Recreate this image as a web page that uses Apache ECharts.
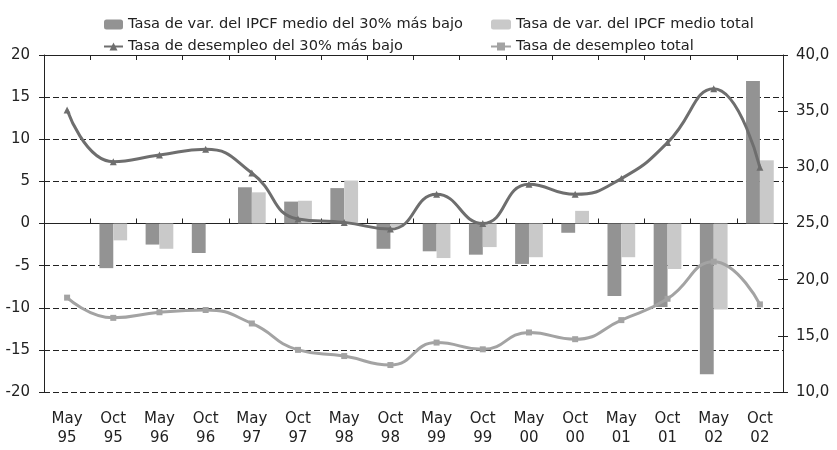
<!DOCTYPE html>
<html>
<head>
<meta charset="utf-8">
<script src="https://cdn.jsdelivr.net/npm/echarts@6/dist/echarts.min.js"></script>
<style>
  html, body { margin: 0; padding: 0; background: #fff; }
  #chart { width: 837px; height: 450px; }
</style>
</head>
<body>
<div id="chart"></div>
<script>
// periodos (mayo / octubre)
var categories = ['May\n95', 'Oct\n95', 'May\n96', 'Oct\n96', 'May\n97', 'Oct\n97', 'May\n98', 'Oct\n98',
    'May\n99', 'Oct\n99', 'May\n00', 'Oct\n00', 'May\n01', 'Oct\n01', 'May\n02', 'Oct\n02'];

// tasa de var. del IPCF medio (eje izq.)
var ipcfBajo = [null, -5.3, -2.5, -3.5, 4.3, 2.6, 4.2, -3.0, -3.3, -3.7, -4.8, -1.1, -8.6, -9.9, -17.9, 16.9];
var ipcfTotal = [null, -2.0, -3.0, null, 3.7, 2.7, 5.1, -0.4, -4.1, -2.8, -4.0, 1.5, -4.0, -5.4, -10.2, 7.5];

// tasa de desempleo (eje der.)
var desempBajo = [35.1, 30.5, 31.1, 31.6, 29.5, 25.4, 25.1, 24.5, 27.6, 25.0, 28.5, 27.6, 29.0, 32.2, 37.0, 30.0];
var desempTotal = [18.4, 16.6, 17.1, 17.3, 16.1, 13.75, 13.2, 12.4, 14.4, 13.8, 15.3, 14.7, 16.4, 18.3, 21.6, 17.8];

var names = ['Tasa de var. del IPCF medio del 30% más bajo', 'Tasa de var. del IPCF medio total',
    'Tasa de desempleo del 30% más bajo', 'Tasa de desempleo total'];

var font = 'DejaVu Sans, sans-serif';
var txt = { color: '#222', fontSize: 14.6, fontFamily: font };
var dashed = { show: true, lineStyle: { color: '#222', type: [6, 3], width: 1 } };

var myChart = echarts.init(document.getElementById('chart'));

var option = {
    animation: false,
    backgroundColor: '#fff',
    textStyle: txt,
    legend: [
        {
            left: 98, top: 12, orient: 'vertical', itemGap: 7,
            itemWidth: 19, itemHeight: 10, textStyle: txt,
            data: [names[0], names[2]]
        },
        {
            left: 485, top: 12, orient: 'vertical', itemGap: 7,
            itemWidth: 20, itemHeight: 10, textStyle: txt,
            data: [names[1], names[3]]
        }
    ],
    grid: { left: 44, right: 54, top: 55, bottom: 58 },
    xAxis: [
        {
            type: 'category', data: categories, position: 'bottom',
            axisLine: { show: false, onZero: false }, axisTick: { show: false },
            axisLabel: { margin: 18, lineHeight: 19, color: '#222', fontSize: 15, fontFamily: font }
        },
        {
            type: 'category', data: categories,
            axisLine: { onZero: true, lineStyle: { color: '#222', width: 1 } },
            axisTick: { show: true, length: 5, lineStyle: { color: '#222' } },
            axisLabel: { show: false }
        },
        {
            type: 'category', data: categories,
            axisLine: { onZero: true, lineStyle: { color: '#222', width: 1 } },
            axisTick: { show: true, inside: true, length: 5, lineStyle: { color: '#222' } },
            axisLabel: { show: false }
        }
    ],
    yAxis: [
        {
            type: 'value', min: -20, max: 20, interval: 5,
            axisLine: { show: true, lineStyle: { color: '#222' } },
            axisTick: { show: true, length: 5, lineStyle: { color: '#222' } },
            axisLabel: { color: '#222', fontSize: 15, fontFamily: font, margin: 14 },
            splitLine: dashed
        },
        {
            type: 'value', min: 10, max: 40, interval: 5, position: 'right',
            axisLine: { show: true, lineStyle: { color: '#222' } },
            axisTick: { show: true, length: 5, lineStyle: { color: '#222' } },
            axisLabel: {
                color: '#222', fontSize: 15, fontFamily: font, margin: 13,
                formatter: function (v) { return v.toFixed(1).replace('.', ','); }
            },
            splitLine: { show: false }
        },
        {
            // ticks hacia adentro del eje derecho
            type: 'value', min: 10, max: 40, interval: 5, position: 'right',
            axisLine: { show: false },
            axisTick: { show: true, inside: true, length: 5, lineStyle: { color: '#222' } },
            axisLabel: { show: false },
            splitLine: { show: false }
        }
    ],
    series: [
        {
            name: names[0], type: 'bar', data: ipcfBajo, barGap: '0%', barCategoryGap: '40%',
            itemStyle: { color: '#939393' }
        },
        {
            name: names[1], type: 'bar', data: ipcfTotal,
            itemStyle: { color: '#c9c9c9' }
        },
        {
            name: names[2], type: 'line', yAxisIndex: 1, data: desempBajo, smooth: 0.5,
            symbol: 'triangle', symbolSize: 7,
            lineStyle: { color: '#6e6e6e', width: 3 }, itemStyle: { color: '#6e6e6e' }
        },
        {
            name: names[3], type: 'line', yAxisIndex: 1, data: desempTotal, smooth: 0.5,
            symbol: 'rect', symbolSize: 6,
            lineStyle: { color: '#a3a3a3', width: 3 }, itemStyle: { color: '#a3a3a3' }
        }
    ]
};

myChart.setOption(option);
</script>
</body>
</html>
